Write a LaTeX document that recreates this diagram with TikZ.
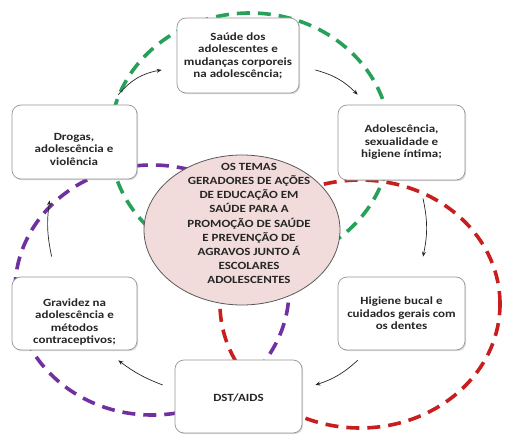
\documentclass[tikz,border=0pt]{standalone}
\usepackage{fontspec}
\setmainfont{Carlito}[FakeStretch=1.18]
\usetikzlibrary{shapes.geometric,shadows,arrows.meta,calc}
\definecolor{dgreen}{RGB}{40,160,90}
\definecolor{dred}{RGB}{200,30,30}
\definecolor{dpurple}{RGB}{112,48,160}
\definecolor{pinkfill}{RGB}{242,220,219}
\definecolor{boxborder}{RGB}{150,150,150}
\begin{document}
\begin{tikzpicture}[x=1pt,y=-1pt,
  box/.style={draw=boxborder, line width=0.7pt, fill=white, rounded corners=9pt,
    inner sep=0pt, drop shadow={opacity=0.3, shadow xshift=1.2pt, shadow yshift=-1.2pt}},
  boxtext/.style={align=center, font=\fontsize{11}{12.5}\selectfont\bfseries, text=black!85, inner sep=0pt},
  centertext/.style={align=center, font=\fontsize{11}{14.1}\selectfont\bfseries, text=black!85, inner sep=0pt},
  dashring/.style={line width=3.6pt, dash pattern=on 13pt off 8pt},
  conn/.style={-{Stealth[length=5pt,width=4pt]}, line width=0.7pt, black!85}]
\useasboundingbox (0,0) rectangle (505,435);
% dashed rings
\draw[dashring, dgreen] (250,140) ellipse [x radius=140pt, y radius=127pt];
\draw[dashring, dred] (360,304) ellipse [x radius=140pt, y radius=124pt];
\draw[dashring, dpurple] (152,290) ellipse [x radius=137pt, y radius=125pt];
% central ellipse
\node[ellipse, draw=black!65, line width=0.8pt, fill=pinkfill, minimum width=196pt, minimum height=150pt, inner sep=0pt] (hub) at (242,230) {};
\node[centertext] (hubtxt) at (249,223.5) {OS TEMAS\\GERADORES  DE AÇÕES\\DE EDUCAÇÃO  EM\\SAÚDE PARA  A\\PROMOÇÃO  DE SAÚDE\\E PREVENÇÃO  DE\\AGRAVOS  JUNTO Á\\ESCOLARES\\ADOLESCENTES};
% boxes
\node[box, minimum width=122pt, minimum height=75pt] (top) at (238,55.5) {};
\node[boxtext] (toptxt) at (238,56) {Saúde dos\\adolescentes e\\mudanças  corporeis\\na adolescência;};
\node[box, minimum width=125pt, minimum height=74pt] (drogas) at (74.5,142) {};
\node[boxtext] (drogastxt) at (74,149) {Drogas,\\adolescência e\\violência};
\node[box, minimum width=127pt, minimum height=75pt] (adol) at (401.5,142.5) {};
\node[boxtext] (adoltxt) at (401.5,142.5) {Adolescência,\\sexualidade e\\higiene íntima;};
\node[box, minimum width=125pt, minimum height=73pt] (gravidez) at (74.5,313.5) {};
\node[boxtext] (gravideztxt) at (74.5,322) {Gravidez na\\adolescência e\\métodos\\contraceptivos;};
\node[box, minimum width=127pt, minimum height=73pt] (higiene) at (401.5,313.5) {};
\node[boxtext] (higienetxt) at (401.5,313.5) {Higiene bucal e\\cuidados gerais com\\os dentes};
\node[box, minimum width=127pt, minimum height=73pt] (dst) at (238.5,396.5) {};
\node[boxtext] (dsttxt) at (238.5,397.5) {DST/AIDS};
% connectors
\draw[conn] ($(drogas.north east)+(-19,-10)$) to[bend left=20] ($(top.west)+(-15,14.5)$);
\draw[conn] ($(top.east)+(16,14.5)$) to[bend left=15] ($(adol.north west)+(20,-10)$);
\draw[conn] ($(adol.south)+(21.5,18)$) to[bend left=12] ($(higiene.north)+(21.5,-20)$);
\draw[conn] ($(higiene.south west)+(20,10)$) to[bend left=12] ($(dst.east)+(13,-11.5)$);
\draw[conn] ($(dst.west)+(-12,-11.5)$) to[bend left=8] ($(gravidez.south east)+(-19,10)$);
\draw[conn] ($(gravidez.north west)+(40,-20)$) to[bend left=10] ($(drogas.south west)+(38,21)$);
\end{tikzpicture}
\end{document}
